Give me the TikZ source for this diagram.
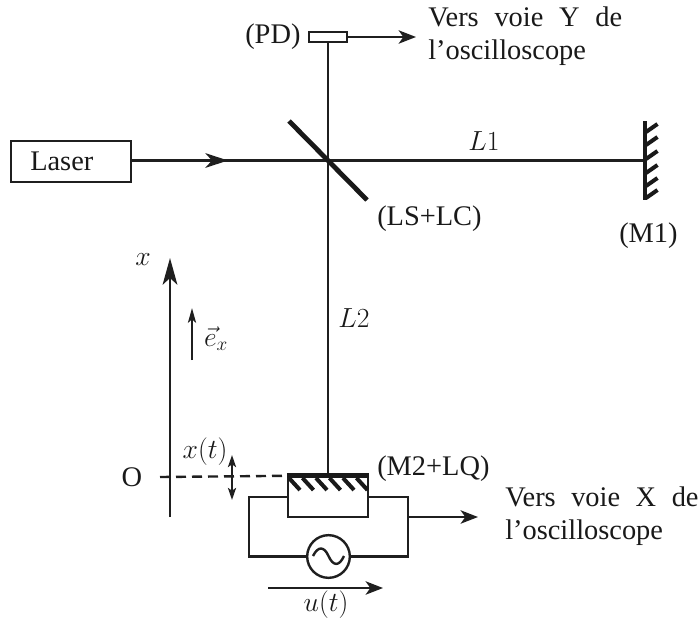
\documentclass[tikz,border=0pt]{standalone}
\usepackage[no-math]{fontspec}
\setmainfont{Liberation Serif}
\usetikzlibrary{arrows.meta,calc}
\tikzset{
 ln/.style={line width=1.8pt,draw=black!88},
 thickln/.style={line width=3.6pt,draw=black!90},
 hatch/.style={line width=3pt,draw=black!90},
 arr/.style={ln,-{Stealth[length=13pt,width=10pt,inset=3.5pt]}},
 lbl/.style={inner sep=0pt,font=\fontsize{21.3}{25}\selectfont,text=black!90},
 mth/.style={inner sep=0pt,font=\fontsize{21.5}{25}\selectfont,text=black!90},
 boxn/.style={draw=black!88,line width=1.8pt,inner sep=0pt,fill=white},
}
\begin{document}
\begin{tikzpicture}[x=0.75pt,y=-0.75pt]
\useasboundingbox (0,0) rectangle (699,618);
% main beam
\coordinate (m1) at (645,160.5);
\coordinate (m2) at (328,477);
\node[boxn,minimum width=90pt,minimum height=30.5pt] (laser) at (71,161.5) {};
\node[boxn,minimum width=28.5pt,minimum height=7.5pt] (pd) at (328,37) {};
\coordinate (beamst) at (131,160.5);
\draw[ln] (beamst) -- (m1);
\coordinate (beamtip) at (228,160.5);
\draw[ln,-{Stealth[length=17pt,width=11pt,inset=5pt]}] (beamst) -- (beamtip);
\draw[ln] (pd.south) -- (m2);
\coordinate (pdout) at (416,37);
\draw[arr] (pd.east) -- (pdout);
% beam splitter
\coordinate (bsa) at (289,121);
\coordinate (bsb) at (367,200);
\draw[thickln] (bsa) -- (bsb);
% mirror M1
\coordinate (m1a) at (645,121);
\coordinate (m1b) at (645,200);
\draw[thickln] (m1a) -- (m1b);
\foreach \y in {132,145,159,173,186,198}
  \draw[hatch] (646,\y) -- (657.5,\y-8);
% axis
\coordinate (axb) at (170,517);
\coordinate (axt) at (170,258);
\draw[ln,line width=2.1pt,-{Stealth[length=20pt,width=11pt,inset=5pt]}] (axb) -- (axt);
% e_x
\coordinate (exb) at (192,360);
\coordinate (ext) at (192,308);
\draw[ln,-{Stealth[length=11pt,width=6pt,inset=2.5pt]}] (exb) -- (ext);
% M2 + LQ
\node[boxn,minimum width=60pt,minimum height=30pt] (lq) at (328,497) {};
\coordinate (o) at (160,477);
\draw[ln,dash pattern=on 7.5pt off 4.5pt] (o) -- (lq.north west);
\draw[thickln] (lq.north west) -- (lq.north east);
\foreach \x in {289,302.5,316,329.5,343,356.5}
  \draw[hatch] (\x,478) -- (\x+11,490);
% x(t)
\coordinate (xa) at (232,455);
\coordinate (xb) at (232,500);
\draw[ln,{Stealth[length=9pt,width=6pt,inset=2pt]}-{Stealth[length=9pt,width=6pt,inset=2pt]}] (xa) -- (xb);
% circuit
\node[draw=black!88,line width=1.8pt,circle,minimum size=32pt,inner sep=0pt] (gen) at (328.5,556.5) {};
\coordinate (cl1) at (249,497);
\coordinate (cl2) at (249,556.5);
\coordinate (cr1) at (408,497);
\coordinate (cr2) at (408,556.5);
\draw[ln] (lq.west) -- (cl1) -- (cl2) -- (gen.west);
\draw[ln] (lq.east) -- (cr1) -- (cr2) -- (gen.east);
\draw[ln] (313,556) .. controls (318,546) and (324,546) .. (328.5,556) .. controls (333,566) and (339,567) .. (344,556);
\coordinate (outs) at (408,517);
\coordinate (oute) at (478,517);
\draw[arr] (outs) -- (oute);
\coordinate (ua) at (268,588);
\coordinate (ub) at (383,588);
\draw[arr] (ua) -- (ub);
% labels
\node[lbl,anchor=base west] (tlaser) at (30,170) {Laser};
\node[lbl,anchor=base west] (tpd) at (245,43) {(PD)};
\node[lbl,anchor=base west] (ty1) at (428,26) {\makebox[145.5pt][s]{Vers voie Y de}};
\node[lbl,anchor=base west] (ty2) at (428,59) {l’oscilloscope};
\node[mth] (tl1) at (484,141) {$L1$};
\node[mth] (tl2) at (354,318) {$L2$};
\node[lbl,anchor=base west] (tls) at (377,225) {(LS+LC)};
\node[lbl,anchor=base west] (tm1) at (619,242) {(M1)};
\node[mth] (tx) at (143,260) {$x$};
\node[mth] (tex) at (216,339) {$\vec{e}_x$};
\node[mth] (txt) at (205,452) {$x(t)$};
\node[lbl] (to) at (132,477) {O};
\node[lbl,anchor=base west] (tm2) at (377,475) {(M2+LQ)};
\node[lbl,anchor=base west] (tx1) at (505,506) {\makebox[145pt][s]{Vers voie X de}};
\node[lbl,anchor=base west] (tx2) at (505,539) {l’oscilloscope};
\node[mth] (tu) at (326,605) {$u(t)$};
\end{tikzpicture}
\end{document}
